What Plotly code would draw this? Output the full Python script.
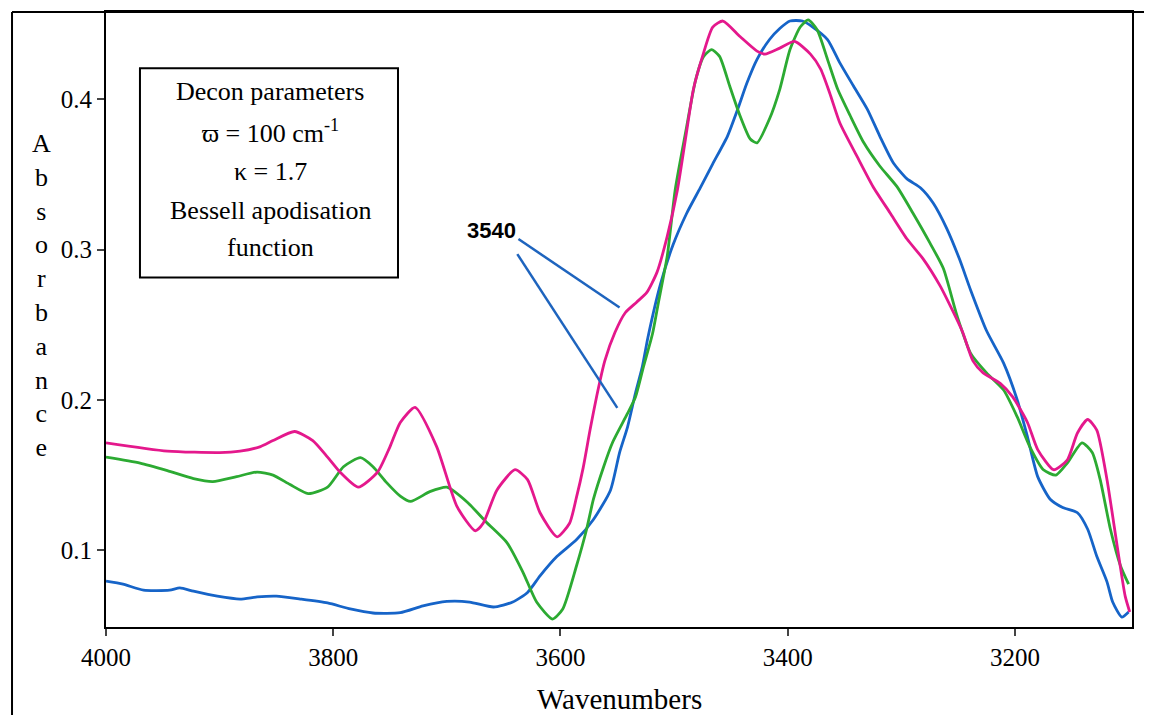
import plotly.graph_objects as go

# wavenumbers (cm-1) and absorbance
mag_wn = [4000, 3946, 3900, 3882, 3864, 3853, 3834, 3818, 3805, 3794, 3778, 3761, 3750, 3741,
          3728, 3709, 3691, 3675, 3668, 3656, 3640, 3629, 3618, 3603, 3592, 3586, 3580, 3574,
          3568, 3561, 3552, 3543, 3533, 3524, 3515, 3506, 3497, 3490, 3483, 3475, 3466, 3457,
          3442, 3427, 3420, 3407, 3394, 3380, 3371, 3363, 3354, 3339, 3325, 3310, 3295, 3281,
          3266, 3254, 3246, 3237, 3228, 3213, 3202, 3189, 3180, 3166, 3154, 3145, 3136, 3128,
          3119, 3110, 3103, 3099]
mag_abs = [0.1715, 0.166, 0.165, 0.166, 0.169, 0.173, 0.179, 0.173, 0.162, 0.152, 0.142, 0.152,
           0.169, 0.185, 0.195, 0.169, 0.129, 0.113, 0.118, 0.140, 0.1536, 0.147, 0.125, 0.109,
           0.118, 0.135, 0.155, 0.180, 0.203, 0.226, 0.245, 0.258, 0.265, 0.2715, 0.285, 0.309,
           0.340, 0.3735, 0.4066, 0.4285, 0.448, 0.452, 0.4417, 0.432, 0.430, 0.434, 0.4384,
           0.430, 0.420, 0.404, 0.384, 0.362, 0.342, 0.3245, 0.307, 0.294, 0.276, 0.258, 0.245,
           0.226, 0.218, 0.211, 0.202, 0.185, 0.167, 0.1536, 0.160, 0.178, 0.187, 0.180, 0.147,
           0.1026, 0.0695, 0.059]

grn_wn = [4000, 3970, 3946, 3923, 3906, 3885, 3867, 3853, 3838, 3822, 3805, 3791, 3776, 3765,
          3753, 3741, 3732, 3715, 3700, 3682, 3665, 3647, 3633, 3621, 3607, 3598, 3586, 3577,
          3571, 3562, 3554, 3541, 3534, 3527, 3519, 3514, 3506, 3499, 3490, 3481, 3474, 3467,
          3460, 3451, 3442, 3433, 3427, 3416, 3407, 3398, 3389, 3382, 3374, 3365, 3356, 3345,
          3333, 3319, 3304, 3290, 3275, 3263, 3251, 3239, 3225, 3210, 3198, 3187, 3175, 3164,
          3154, 3141, 3132, 3125, 3116, 3107, 3100]
grn_abs = [0.162, 0.158, 0.153, 0.1477, 0.1457, 0.149, 0.152, 0.150, 0.1437, 0.1377, 0.142,
           0.1556, 0.1616, 0.1556, 0.145, 0.136, 0.1325, 0.139, 0.142, 0.132, 0.1185, 0.105,
           0.0854, 0.0656, 0.0543, 0.061, 0.0894, 0.114, 0.134, 0.1556, 0.172, 0.191, 0.202,
           0.222, 0.244, 0.264, 0.296, 0.340, 0.3775, 0.413, 0.4285, 0.433, 0.4285, 0.4086,
           0.389, 0.3735, 0.371, 0.387, 0.4066, 0.433, 0.448, 0.4527, 0.446, 0.4265, 0.4066,
           0.389, 0.371, 0.3556, 0.342, 0.3245, 0.3046, 0.2874, 0.256, 0.231, 0.218, 0.2066,
           0.1887, 0.169, 0.1536, 0.150, 0.158, 0.1715, 0.165, 0.147, 0.114, 0.0894, 0.0775]

blu_wn = [4000, 3985, 3967, 3944, 3935, 3923, 3902, 3882, 3867, 3850, 3829, 3805, 3785, 3765,
          3741, 3721, 3700, 3680, 3659, 3642, 3629, 3618, 3603, 3586, 3571, 3556, 3548, 3541,
          3534, 3528, 3523, 3512, 3501, 3489, 3477, 3466, 3453, 3444, 3436, 3427, 3416, 3407,
          3398, 3387, 3378, 3365, 3354, 3342, 3330, 3319, 3307, 3295, 3283, 3272, 3260, 3249,
          3239, 3225, 3210, 3198, 3189, 3180, 3169, 3158, 3145, 3136, 3128, 3119, 3114, 3106,
          3100]
blu_abs = [0.0795, 0.0775, 0.0735, 0.0735, 0.075, 0.0728, 0.0695, 0.0676, 0.069, 0.0695, 0.0676,
           0.065, 0.061, 0.0583, 0.0585, 0.063, 0.066, 0.0656, 0.0623, 0.0656, 0.072, 0.083,
           0.096, 0.107, 0.1205, 0.140, 0.165, 0.182, 0.2046, 0.222, 0.2417, 0.277, 0.303,
           0.324, 0.341, 0.357, 0.3755, 0.3934, 0.4106, 0.4265, 0.4397, 0.447, 0.452, 0.452,
           0.448, 0.4397, 0.424, 0.4086, 0.3934, 0.3755, 0.3576, 0.347, 0.341, 0.331, 0.314,
           0.294, 0.273, 0.246, 0.2245, 0.200, 0.1755, 0.149, 0.134, 0.1285, 0.125, 0.114,
           0.096, 0.079, 0.0656, 0.0556, 0.059]

x_ticks = [4000, 3800, 3600, 3400, 3200]
y_ticks = [0.1, 0.2, 0.3, 0.4]
box_lines = ['Decon parameters', '\u03d6 = 100 cm<sup>-1</sup>', '\u03ba = 1.7',
             'Bessell apodisation', 'function']

serif = 'Liberation Serif, Times New Roman, serif'
fig = go.Figure()

for wn, ab, col in [(blu_wn, blu_abs, 'rgb(22,100,200)'),
                    (grn_wn, grn_abs, 'rgb(44,170,50)'),
                    (mag_wn, mag_abs, 'rgb(228,24,140)')]:
    fig.add_trace(go.Scatter(x=wn, y=ab, mode='lines',
                             line=dict(color=col, width=2.8, shape='spline', smoothing=0.6)))

# pointer lines for the 3540 label
fig.add_shape(type='line', x0=3637, y0=0.307, x1=3548, y1=0.2615, xref='x', yref='y',
              line=dict(color='rgb(30,100,190)', width=2.5))
fig.add_shape(type='line', x0=3638, y0=0.297, x1=3550, y1=0.1947, xref='x', yref='y',
              line=dict(color='rgb(30,100,190)', width=2.5))
fig.add_annotation(x=3661, y=0.3125, xref='x', yref='y', text='<b>3540</b>', showarrow=False,
                   xanchor='center', font=dict(family='Liberation Sans, Arial', size=22, color='black'))

# parameter box
fig.add_shape(type='rect', x0=0.0331, x1=0.2846, y0=0.5684, y1=0.9085, xref='paper', yref='paper',
              line=dict(color='black', width=2))
for txt, yy in zip(box_lines, [0.8713, 0.8065, 0.7401, 0.6769, 0.617]):
    fig.add_annotation(x=0.16, y=yy, xref='paper', yref='paper', text=txt, showarrow=False,
                       xanchor='center', yanchor='middle',
                       font=dict(family=serif, size=26, color='black'))

# outer frame
fig.add_shape(type='line', x0=-0.0916, x1=-0.0916, y0=1.0, y1=-0.2, xref='paper', yref='paper',
              line=dict(color='black', width=2))
fig.add_shape(type='line', x0=-0.0916, x1=1.0146, y0=1.0, y1=1.0, xref='paper', yref='paper',
              line=dict(color='black', width=2))
fig.add_shape(type='line', x0=1.0146, x1=1.0146, y0=1.0, y1=-0.2, xref='paper', yref='paper',
              line=dict(color='black', width=2))

fig.add_annotation(x=-0.0624, y=0.5385, xref='paper', yref='paper',
                   text='<br>'.join('Absorbance'), showarrow=False, xanchor='center',
                   yanchor='middle', font=dict(family=serif, size=26, color='black'))
fig.add_annotation(x=0.5, y=-0.1166, xref='paper', yref='paper', text='Wavenumbers',
                   showarrow=False, xanchor='center', yanchor='middle',
                   font=dict(family=serif, size=29, color='black'))

# the page body adds an 8 px margin, so the figure is sized and placed to allow for it
fig.update_layout(width=1144, height=707, margin=dict(l=98, r=20, t=2, b=87.5),
                  plot_bgcolor='white', paper_bgcolor='white', showlegend=False,
                  font=dict(family=serif, size=25, color='black'))
fig.update_xaxes(range=[4000, 3097], tickvals=x_ticks, ticks='outside', ticklen=7, tickwidth=2,
                 showgrid=False, zeroline=False, showline=True, linecolor='black', linewidth=2,
                 mirror=True)
fig.update_yaxes(range=[0.049, 0.458], tickvals=y_ticks, ticks='outside', ticklen=7, tickwidth=2,
                 showgrid=False, zeroline=False, showline=True, linecolor='black', linewidth=2,
                 mirror=True)

fig.write_html("out.html")
